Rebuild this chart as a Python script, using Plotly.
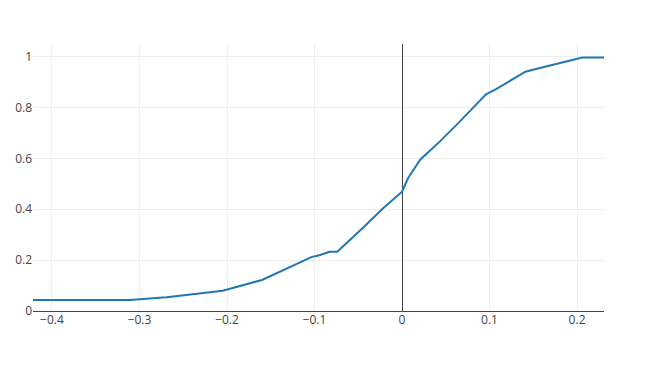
import plotly.graph_objects as go

x_vals = [-0.4217, -0.311, -0.269, -0.205, -0.160, -0.103, -0.098, -0.0936, -0.083, -0.074,
          -0.044, -0.0216, 0.0, 0.0068, 0.021, 0.043, 0.064, 0.096, 0.107, 0.141, 0.153,
          0.206, 0.2308]
y_vals = [0.043, 0.043, 0.054, 0.080, 0.122, 0.213, 0.216, 0.220, 0.233, 0.233,
          0.329, 0.404, 0.469, 0.522, 0.596, 0.666, 0.738, 0.852, 0.872, 0.941, 0.952,
          0.997, 0.997]

fig = go.Figure()
fig.add_trace(go.Scatter(x=x_vals, y=y_vals, mode="lines",
                         line=dict(color="#1f77b4", width=2)))

fig.update_layout(
    template="none",
    width=653, height=369,
    margin=dict(l=33, r=49, t=44, b=58),
    showlegend=False,
    font=dict(family="Open Sans", size=12, color="#444"),
    paper_bgcolor="white", plot_bgcolor="white",
    xaxis=dict(range=[-0.4217, 0.2308], tickvals=[-0.4, -0.3, -0.2, -0.1, 0, 0.1, 0.2],
               gridcolor="#eee", zeroline=True, zerolinecolor="#444", zerolinewidth=1,
               showline=False, ticks=""),
    yaxis=dict(range=[0, 1.05], tickvals=[0, 0.2, 0.4, 0.6, 0.8, 1],
               gridcolor="#eee", zeroline=True, zerolinecolor="#444", zerolinewidth=1,
               showline=False, ticks=""),
)

fig.write_html("out.html")
